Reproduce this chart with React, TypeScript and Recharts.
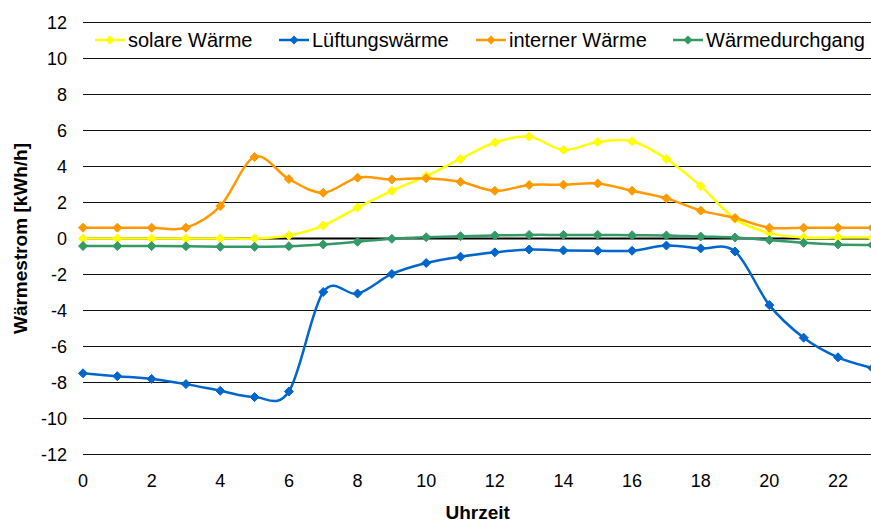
import React from 'react';
import { LineChart, Line, XAxis, YAxis, CartesianGrid, ReferenceLine, Legend } from 'recharts';

// Stunden des Tages
const hours = [0, 1, 2, 3, 4, 5, 6, 7, 8, 9, 10, 11, 12, 13, 14, 15, 16, 17, 18, 19, 20, 21, 22, 23];

// Wärmeströme in kWh/h
const solareWaerme = [0, 0, 0, 0, 0, 0, 0.17, 0.72, 1.72, 2.65, 3.47, 4.42, 5.33, 5.66, 4.92, 5.36, 5.4, 4.42, 2.91, 1.09, 0.3, 0.06, 0.05, 0.05];
const lueftungsWaerme = [-7.49, -7.65, -7.8, -8.09, -8.46, -8.81, -8.5, -2.97, -3.06, -1.97, -1.36, -1.01, -0.77, -0.61, -0.66, -0.68, -0.68, -0.39, -0.55, -0.72, -3.7, -5.51, -6.6, -7.2];
const internerWaerme = [0.6, 0.6, 0.6, 0.6, 1.8, 4.53, 3.3, 2.54, 3.38, 3.28, 3.35, 3.15, 2.65, 2.97, 2.99, 3.06, 2.65, 2.23, 1.55, 1.14, 0.6, 0.6, 0.6, 0.6];
const waermedurchgang = [-0.42, -0.42, -0.42, -0.43, -0.46, -0.46, -0.43, -0.33, -0.18, -0.02, 0.07, 0.13, 0.17, 0.2, 0.2, 0.2, 0.18, 0.17, 0.11, 0.06, -0.09, -0.24, -0.33, -0.36];

const xTicks = [0, 2, 4, 6, 8, 10, 12, 14, 16, 18, 20, 22];
const yTicks = [-12, -10, -8, -6, -4, -2, 0, 2, 4, 6, 8, 10, 12];

const series = [
  { key: 'solar', name: 'solare Wärme', color: '#FFFF00' },
  { key: 'lueftung', name: 'Lüftungswärme', color: '#0066CC' },
  { key: 'intern', name: 'interner Wärme', color: '#FF9900' },
  { key: 'durchgang', name: 'Wärmedurchgang', color: '#339966' },
];

const data = hours.map((h, i) => ({
  h,
  solar: solareWaerme[i],
  lueftung: lueftungsWaerme[i],
  intern: internerWaerme[i],
  durchgang: waermedurchgang[i],
}));

const FONT = '"Liberation Sans", Arial, sans-serif';
const legendX = [95, 279, 476, 673];

// Geglättete Linie wie in Excel (Catmull-Rom, als Bezier-Segmente)
const smoothCurve = (context: any) => {
  let pts: number[][] = [];
  return {
    areaStart() {},
    areaEnd() {},
    lineStart() { pts = []; },
    point(x: number, y: number) { pts.push([+x, +y]); },
    lineEnd() {
      const n = pts.length;
      if (!n) return;
      context.moveTo(pts[0][0], pts[0][1]);
      for (let i = 0; i < n - 1; i++) {
        const p0 = pts[Math.max(i - 1, 0)];
        const p1 = pts[i];
        const p2 = pts[i + 1];
        const p3 = pts[Math.min(i + 2, n - 1)];
        context.bezierCurveTo(
          p1[0] + (p2[0] - p0[0]) / 6, p1[1] + (p2[1] - p0[1]) / 6,
          p2[0] - (p3[0] - p1[0]) / 6, p2[1] - (p3[1] - p1[1]) / 6,
          p2[0], p2[1],
        );
      }
    },
  };
};

const diamond = (color: string, r: number) => (props: any) => {
  const { cx, cy, index } = props;
  if (cx == null || cy == null) return <g key={index} />;
  return (
    <path
      key={index}
      d={`M${cx},${cy - r}L${cx + r},${cy}L${cx},${cy + r}L${cx - r},${cy}Z`}
      fill={color}
      stroke={color}
      strokeWidth={1}
    />
  );
};

const renderLegend = () => (
  <div style={{ position: 'relative', height: 24, fontFamily: FONT, fontSize: 20, color: '#000' }}>
    {series.map((s, i) => (
      <div
        key={s.key}
        style={{ position: 'absolute', left: legendX[i], top: 0, height: 24, display: 'flex', alignItems: 'center', whiteSpace: 'nowrap' }}
      >
        <svg width={30} height={12} style={{ marginRight: 3 }}>
          <line x1={0} y1={6} x2={30} y2={6} stroke={s.color} strokeWidth={2.5} />
          <path d="M15,1.5L19.5,6L15,10.5L10.5,6Z" fill={s.color} />
        </svg>
        <span>{s.name}</span>
      </div>
    ))}
  </div>
);

const YTitle = (props: any) => {
  const vb = props.viewBox || { x: 0, y: 22, height: 432 };
  const x = vb.x + 27;
  const y = vb.y + vb.height / 2;
  return (
    <text x={x} y={y} transform={`rotate(-90 ${x} ${y})`} textAnchor="middle" fontWeight="bold" fontSize={19} fill="#000" fontFamily={FONT}>
      Wärmestrom [kWh/h]
    </text>
  );
};

export default function App() {
  return (
    <div style={{ position: 'absolute', left: 0, top: 0, width: 871, height: 524, overflow: 'hidden', background: '#fff' }}>
      <LineChart
        width={890}
        height={524}
        data={data}
        margin={{ top: 22.5, right: 17.7, bottom: 0, left: 0 }}
        style={{ fontFamily: FONT }}
      >
        <CartesianGrid vertical={false} stroke="#111" strokeWidth={1} />
        <XAxis
          dataKey="h"
          type="number"
          domain={[0, 23]}
          ticks={xTicks}
          interval={0}
          height={69.5}
          axisLine={false}
          tickLine={false}
          tickSize={0}
          tickMargin={20}
          tick={{ fontSize: 18, fill: '#000' }}
          label={{ value: 'Uhrzeit', position: 'insideBottom', offset: 5, style: { fontWeight: 'bold', fontSize: 19, fill: '#000' } }}
        />
        <YAxis
          type="number"
          domain={[-12, 12]}
          ticks={yTicks}
          interval={0}
          width={83}
          axisLine={false}
          tickLine={false}
          tickSize={0}
          tickMargin={16}
          tick={{ fontSize: 18, fill: '#000' }}
          label={{ content: <YTitle /> }}
        />
        <ReferenceLine y={0} stroke="#000" strokeWidth={2} />
        <Legend
          layout="horizontal"
          verticalAlign="middle"
          content={renderLegend}
          wrapperStyle={{ top: 28, left: 0, width: 890 }}
        />
        {series.map((s) => (
          <Line
            key={s.key}
            dataKey={s.key}
            name={s.name}
            type={smoothCurve as any}
            stroke={s.color}
            strokeWidth={2.5}
            dot={diamond(s.color, 4.5)}
            activeDot={false}
            isAnimationActive={false}
          />
        ))}
      </LineChart>
    </div>
  );
}
